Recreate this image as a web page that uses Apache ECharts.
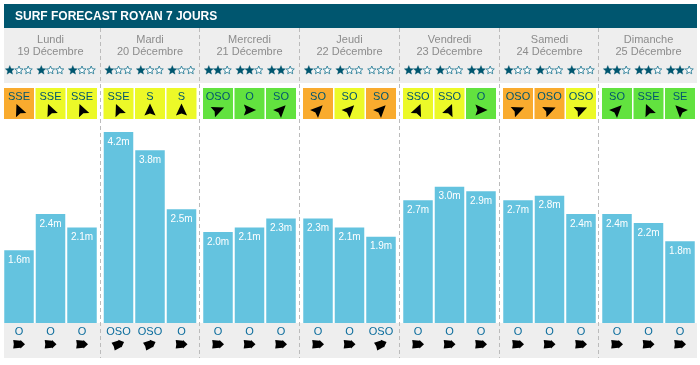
<!DOCTYPE html>
<html><head><meta charset="utf-8">
<style>html,body{margin:0;padding:0;background:#fff}#c{width:700px;height:365px}</style>
<script src="https://cdn.jsdelivr.net/npm/echarts@6/dist/echarts.min.js"></script>
</head><body><div id="c"></div>
<script>
const chartTitle = 'SURF FORECAST ROYAN 7 JOURS';
const dayNames = ['Lundi','Mardi','Mercredi','Jeudi','Vendredi','Samedi','Dimanche'];
const dayDates = ['19 Décembre','20 Décembre','21 Décembre','22 Décembre','23 Décembre','24 Décembre','25 Décembre'];
const slots = ['a','b','c'];
const waveHeights = [[1.6,2.4,2.1],[4.2,3.8,2.5],[2.0,2.1,2.3],[2.3,2.1,1.9],[2.7,3.0,2.9],[2.7,2.8,2.4],[2.4,2.2,1.8]];
const starCounts = [[1,1,1],[1,1,1],[2,2,2],[1,1,0],[2,1,2],[1,1,1],[2,2,2]];
const windDirs = [['SSE','SSE','SSE'],['SSE','S','S'],['OSO','O','SO'],['SO','SO','SO'],['SSO','SSO','O'],['OSO','OSO','OSO'],['SO','SSE','SE']];
const windQuality = [['o','y','y'],['y','y','y'],['g','g','g'],['o','y','o'],['y','y','g'],['o','o','y'],['g','g','g']];
const swellDirs = [['O','O','O'],['OSO','OSO','O'],['O','O','O'],['O','O','OSO'],['O','O','O'],['O','O','O'],['O','O','O']];

const qualityColor = {o:'#f9ab2e', y:'#ecf928', g:'#62e23f'};
const bearing = {S:0, SSE:-22.5, SE:-45, SSO:22.5, SO:45, OSO:67.5, O:90};
const gridLeft = [3.25,102.75,202.25,302.25,402.25,502.25,601.25];
const separators = [100.5,199.5,299.5,399.5,499.5,598.5];
const TEAL='#00566f', BAR='#64c3df', BAND='#eeeeee';

function rot(pts, deg, cx, cy){
  const a=deg*Math.PI/180, c=Math.cos(a), s=Math.sin(a);
  return pts.map(p=>[cx+p[0]*c-p[1]*s, cy+p[0]*s+p[1]*c]);
}
function starPts(cx,cy,R){
  const r=R*0.45, out=[];
  for(let i=0;i<10;i++){
    const a=-Math.PI/2+i*Math.PI/5, q=i%2?r:R;
    out.push([cx+q*Math.cos(a),cy+q*Math.sin(a)]);
  }
  return out;
}
const navArrow=[[0,-6.6],[5.6,5.6],[0,3.6],[-5.6,5.6]];
const swellArrow=[[6,0],[1.5,-4.2],[1.5,-3.5],[-5.8,-4.2],[-5.2,0],[-5.8,4.2],[1.5,3.5],[1.5,4.2]];

const grids=[],xAxes=[],yAxes=[],series=[];
dayNames.forEach((d,i)=>{
  grids.push({left:gridLeft[i],top:123,width:94.5,height:200});
  xAxes.push({type:'category',gridIndex:i,data:slots,show:false});
  yAxes.push({type:'value',gridIndex:i,min:0,max:4.4,show:false});
  series.push({
    type:'bar',xAxisIndex:i,yAxisIndex:i,data:waveHeights[i],barWidth:29.5,z:3,silent:true,
    itemStyle:{color:BAR},
    label:{show:true,position:'insideTop',distance:5,color:'#fff',fontSize:10,fontFamily:'Liberation Sans, Arial',
      formatter:p=>p.value.toFixed(1)+'m'}
  });
  series.push({
    type:'custom',xAxisIndex:i,yAxisIndex:i,z:4,silent:true,
    data:slots.map((s,k)=>[k,0]),
    renderItem:(params,api)=>{
      const k=api.value(0), x=api.coord([k,0])[0], kids=[];
      for(let n=0;n<3;n++){
        const filled=n<starCounts[i][k];
        kids.push({type:'polygon',shape:{points:starPts(x-9.2+n*9.2,70.3,filled?4.8:4.3)},
          style:{fill:filled?TEAL:'#fff',stroke:filled?TEAL:'#2c7f99',lineWidth:filled?0.3:0.9}});
      }
      kids.push({type:'rect',shape:{x:x-15,y:88,width:30,height:31},style:{fill:qualityColor[windQuality[i][k]]}});
      kids.push({type:'text',style:{x:x,y:96.5,text:windDirs[i][k],fill:TEAL,font:'11px "Liberation Sans", Arial',align:'center',verticalAlign:'middle'}});
      kids.push({type:'polygon',shape:{points:rot(navArrow,bearing[windDirs[i][k]],x,110)},style:{fill:'#000'}});
      kids.push({type:'text',style:{x:x,y:331.5,text:swellDirs[i][k],fill:'#0a6c9c',font:'11px "Liberation Sans", Arial',align:'center',verticalAlign:'middle'}});
      kids.push({type:'polygon',shape:{points:rot(swellArrow,bearing[swellDirs[i][k]]-90,x,344.3)},style:{fill:'#000'}});
      return {type:'group',children:kids};
    }
  });
});

const graphic=[
  {type:'rect',z:0,shape:{x:4,y:4,width:693,height:24},style:{fill:TEAL}},
  {type:'rect',z:0,shape:{x:4,y:28,width:693,height:55},style:{fill:BAND}},
  {type:'rect',z:0,shape:{x:4,y:323,width:693,height:35},style:{fill:BAND}},
  {type:'text',z:5,style:{x:15,y:16.5,text:chartTitle,fill:'#fff',font:'bold 12px "Liberation Sans", Arial',verticalAlign:'middle'}}
];
separators.forEach(x=>graphic.push({type:'line',z:1,shape:{x1:x,y1:28,x2:x,y2:358},style:{stroke:'#bbbbbb',lineWidth:1,lineDash:[4,3]}}));
dayNames.forEach((d,i)=>{
  const cx=gridLeft[i]+47.25;
  graphic.push({type:'text',z:5,style:{x:cx,y:39.5,text:d,fill:'#8c8c8c',font:'11px "Liberation Sans", Arial',align:'center',verticalAlign:'middle'}});
  graphic.push({type:'text',z:5,style:{x:cx,y:51.5,text:dayDates[i],fill:'#8c8c8c',font:'11px "Liberation Sans", Arial',align:'center',verticalAlign:'middle'}});
});

const chart=echarts.init(document.getElementById('c'),null,{renderer:'canvas'});
chart.setOption({animation:false,backgroundColor:'#fff',grid:grids,xAxis:xAxes,yAxis:yAxes,series,graphic});
</script></body></html>
